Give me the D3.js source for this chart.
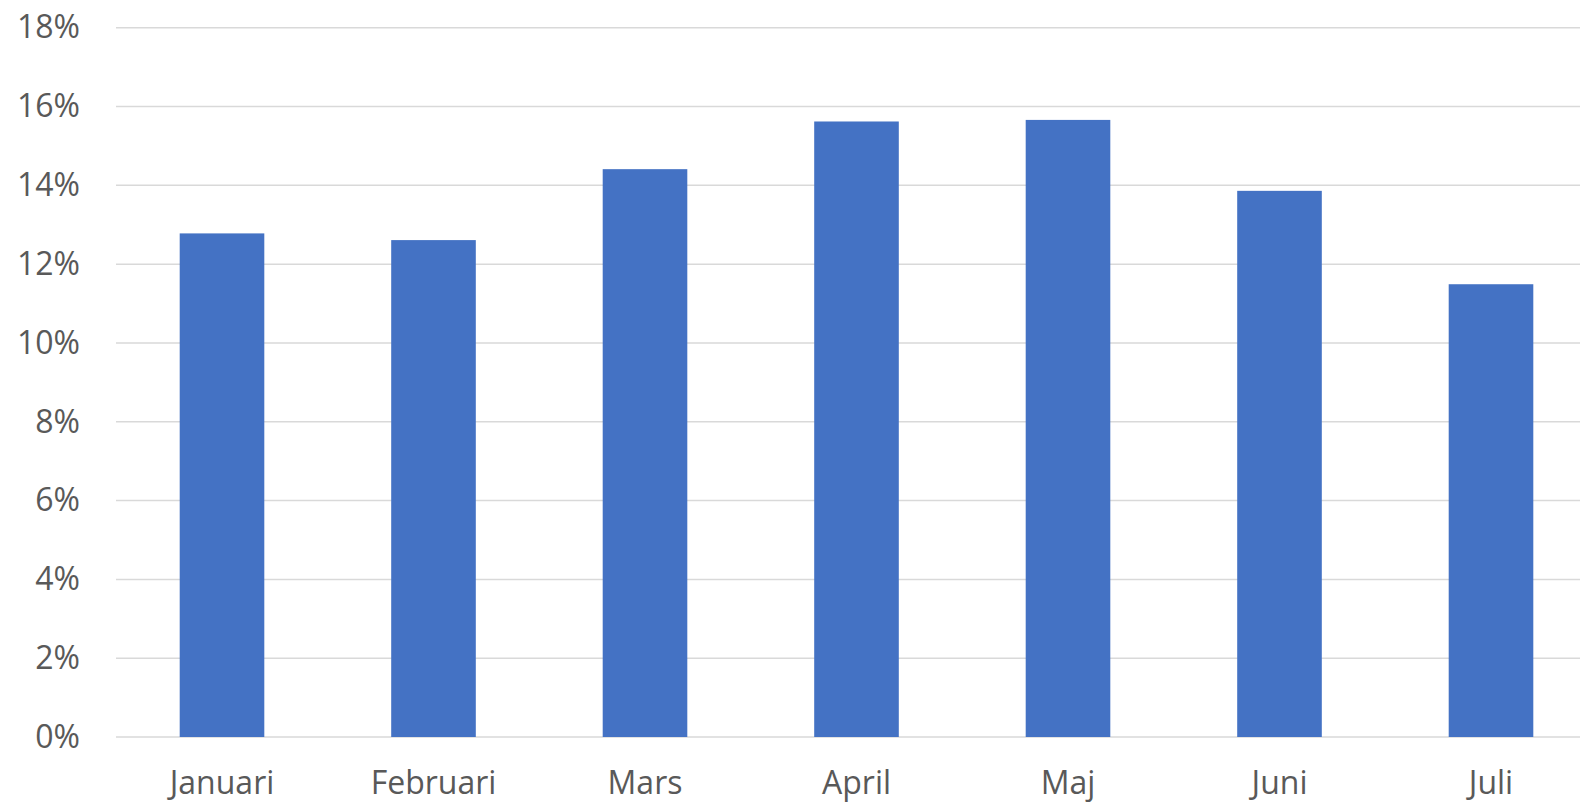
<!DOCTYPE html>
<html>
<head>
<meta charset="utf-8">
<script src="https://cdn.jsdelivr.net/npm/d3@7"></script>
<style>
  html, body { margin: 0; padding: 0; background: #fff; }
  #chart { width: 1580px; height: 802px; overflow: hidden; }
</style>
</head>
<body>
<div id="chart"></div>
<script>
// data
const months = ["Januari", "Februari", "Mars", "April", "Maj", "Juni", "Juli"];
const shares = [12.78, 12.61, 14.41, 15.62, 15.66, 13.86, 11.49];
const yTicks = [0, 2, 4, 6, 8, 10, 12, 14, 16, 18];

const width = 1580, height = 802;
const fontFamily = "'Open Sans', 'Noto Sans', sans-serif";

const svg = d3.select("#chart")
  .append("svg")
  .attr("width", width)
  .attr("height", height);

const x = d3.scaleBand()
  .domain(months)
  .range([116.25, 1596.75])
  .paddingInner(0.6)
  .paddingOuter(0.3);

const y = d3.scaleLinear()
  .domain([0, 18])
  .range([737, 27.7]);

// gridlines
svg.append("g")
  .selectAll("line")
  .data(yTicks)
  .join("line")
  .attr("x1", 116)
  .attr("x2", width)
  .attr("y1", d => y(d))
  .attr("y2", d => y(d))
  .attr("stroke", "#d9d9d9")
  .attr("stroke-width", 1.5);

// bars
svg.append("g")
  .selectAll("rect")
  .data(months)
  .join("rect")
  .attr("x", d => x(d))
  .attr("width", x.bandwidth())
  .attr("y", (d, i) => y(shares[i]))
  .attr("height", (d, i) => y(0) - y(shares[i]))
  .attr("fill", "#4472c4");

// y axis labels
const yAxis = svg.append("g")
  .attr("transform", "translate(80,0)")
  .call(d3.axisLeft(y).tickValues(yTicks).tickSize(0).tickPadding(0).tickFormat(d => d + "%"));
yAxis.select(".domain").remove();
yAxis.selectAll("text")
  .attr("fill", "#595959")
  .attr("font-size", 32)
  .attr("font-family", fontFamily);

// x axis labels
const xAxis = svg.append("g")
  .attr("transform", `translate(0,${y(0)})`)
  .call(d3.axisBottom(x).tickSize(0).tickPadding(34));
xAxis.select(".domain").remove();
xAxis.selectAll("text")
  .attr("fill", "#595959")
  .attr("font-size", 32)
  .attr("font-family", fontFamily);
</script>
</body>
</html>
